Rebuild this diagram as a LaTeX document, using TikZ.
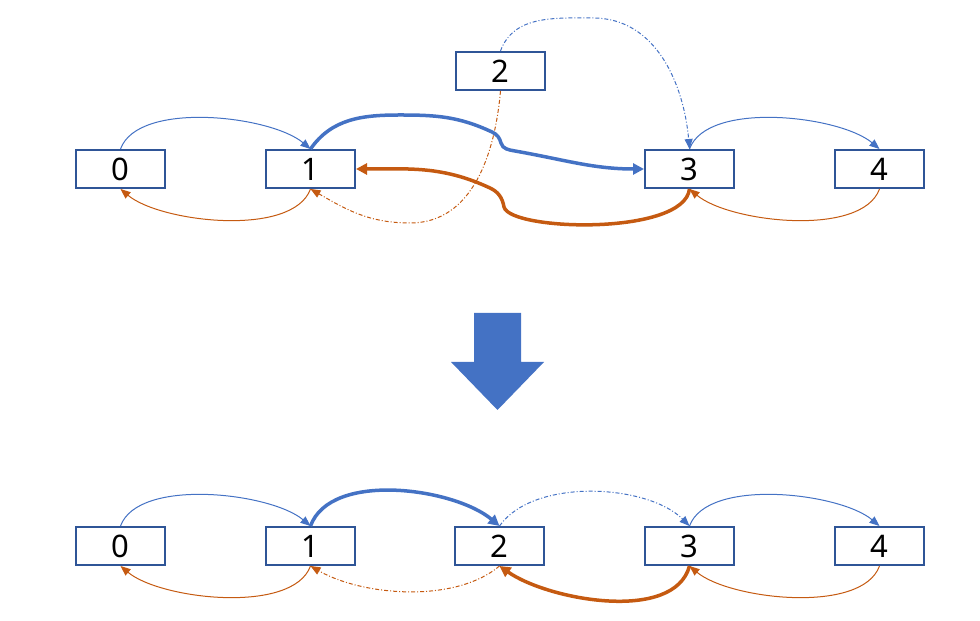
\documentclass[tikz,border=0pt]{standalone}
\usepackage{fontspec}
\setmainfont{Noto Sans}
\usetikzlibrary{arrows.meta}
\definecolor{nextblue}{HTML}{4472C4}
\definecolor{prevorange}{HTML}{C55A11}
\definecolor{boxline}{HTML}{2F5597}
\tikzset{box/.style={draw=boxline,line width=2pt,minimum width=89pt,minimum height=38pt,inner sep=0pt,
    font=\fontsize{31}{36}\selectfont},
  nxt/.style={nextblue,line width=1pt,-{Triangle[length=10pt,width=8pt]}},
  prv/.style={prevorange,line width=1pt,-{Triangle[length=10pt,width=8pt]}},
  heavy/.style={line width=3.5pt,-{Triangle[length=11pt,width=11pt]}},
  stale/.style={dash pattern=on 4pt off 2pt on 1pt off 2pt},
  over/.style={out=70,in=140,looseness=.7},
  under/.style={out=-110,in=-40,looseness=.7}}

\begin{document}
\begin{tikzpicture}[x=1pt,y=1pt]
\useasboundingbox (0,0) rectangle (980,621);
% before
\foreach \i/\x in {0/120.5,1/310.5,3/689.5,4/879.5}{\node[box] (t\i) at (\x,452) {\i};}
\node[box] (t2) at (500.5,550) {2};
\draw[nxt] (t0.north) to[over] (t1.north);
\draw[nxt] (t3.north) to[over] (t4.north);
\draw[prv] (t1.south) to[under] (t0.south);
\draw[prv] (t4.south) to[under] (t3.south);
\draw[nxt,stale] (t2.north) to[out=70,in=180] (593,603) to[out=0,in=95] (t3.north);
\draw[prv,stale] (t2.south) to[out=-95,in=0] (410,398) to[out=180,in=-30] (t1.south);
\draw[nxt,heavy] (t1.north) to[out=55,in=180] (400,506) to[out=0,in=155] (492,489)
  to[out=-25,in=105] (501,478) to[out=-75,in=170] (515,470) to[out=-10,in=180] (t3.west);
\draw[prv,heavy] (t3.south) .. controls (684,385) and (510,390) .. (504,414)
  to[out=100,in=-25] (490,433) to[out=155,in=0] (t1.east);
% big arrow
\fill[nextblue] (474,308) -- (521,308) -- (521,259) -- (544,259) -- (497.5,211) -- (451,259) -- (474,259) -- cycle;
% after
\foreach \i/\x in {0/120.5,1/310.5,2/499.5,3/689.5,4/879.5}{\node[box] (b\i) at (\x,75) {\i};}
\draw[nxt] (b0.north) to[over] (b1.north);
\draw[nxt,heavy] (b1.north) to[out=70,in=140,looseness=.8] (b2.north);
\draw[nxt,stale] (b2.north) to[out=55,in=135,looseness=.8] (b3.north);
\draw[nxt] (b3.north) to[over] (b4.north);
\draw[prv] (b1.south) to[under] (b0.south);
\draw[prv,stale] (b2.south) to[out=-140,in=-30,looseness=.8] (b1.south);
\draw[prv,heavy] (b3.south) to[out=-105,in=-35,looseness=.8] (b2.south);
\draw[prv] (b4.south) to[under] (b3.south);
\end{tikzpicture}
\end{document}
